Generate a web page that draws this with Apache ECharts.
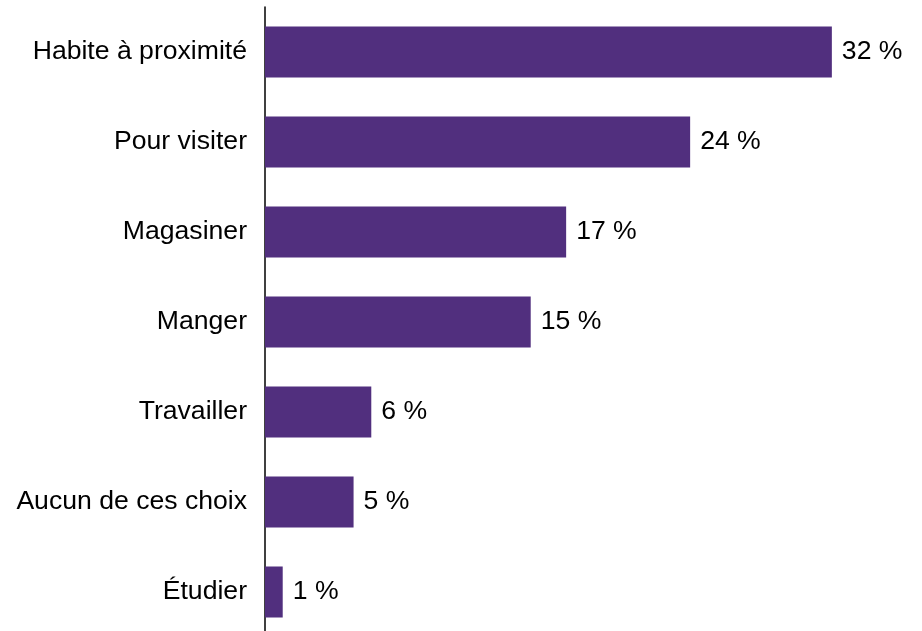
<!DOCTYPE html>
<html>
<head>
<meta charset="utf-8">
<style>
  html, body { margin: 0; padding: 0; background: #ffffff; height: 631px; overflow: hidden; }
  /* the plot runs slightly past the bottom edge of the page */
  #chart { width: 922px; height: 637px; }
</style>
<script src="https://cdn.jsdelivr.net/npm/echarts@6/dist/echarts.min.js"></script>
</head>
<body>
<div id="chart"></div>
<script>
// Reasons for being in the area, share of respondents (%)
const categories = [
  'Habite à proximité',
  'Pour visiter',
  'Magasiner',
  'Manger',
  'Travailler',
  'Aucun de ces choix',
  'Étudier'
];
const shares = [32, 24, 17, 15, 6, 5, 1];

const chart = echarts.init(document.getElementById('chart'), null, { renderer: 'canvas' });
const FONT = '"Liberation Sans", Arial, sans-serif';

chart.setOption({
  animation: false,
  grid: { left: 265, top: 7, right: 37, bottom: 0, containLabel: false },
  xAxis: {
    type: 'value', min: 0, max: 35,
    show: false
  },
  yAxis: {
    type: 'category',
    inverse: true,
    data: categories,
    axisLine: { show: true, lineStyle: { color: '#000000', width: 1.5 } },
    axisTick: { show: false },
    axisLabel: { color: '#000000', fontSize: 26.6, fontFamily: FONT, margin: 18 }
  },
  series: [{
    type: 'bar',
    data: shares,
    barWidth: 51,
    itemStyle: { color: '#512F7E' },
    label: {
      show: true, position: 'right', distance: 10,
      color: '#000000', fontSize: 26.6, fontFamily: FONT,
      formatter: p => p.value + ' %'
    }
  }]
});
</script>
</body>
</html>
